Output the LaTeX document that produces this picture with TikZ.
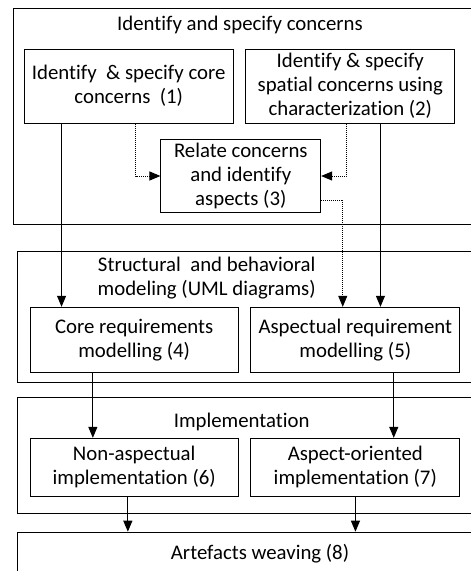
\documentclass[tikz,border=0pt]{standalone}
\usepackage{fontspec}
\setmainfont{Carlito}[Ligatures=NoCommon]
\usepackage{tikz}
\usetikzlibrary{arrows.meta}

\begin{document}
\begin{tikzpicture}[x=1pt, y=-1pt]
			\tikzstyle{every node}=[font=\fontsize{20.8}{24}\selectfont];
			\tikzstyle{proc}=[draw, line width=1pt, align=center, inner sep=0pt];
			\tikzstyle{grp}=[draw, line width=1pt, anchor=north west, inner sep=0pt, minimum width=480pt];
			\tikzstyle{arr}=[line width=1pt, -{Triangle[length=11pt, width=9pt]}];
			\tikzstyle{dotarr}=[arr, densely dotted];
			
			%Frame
			\useasboundingbox (0,0) rectangle (471,571);
			\clip (0,0) rectangle (471,571);
			
			%Groups
			\node[grp, minimum height=215.7pt] (g1) at (12.7,8.3) {};
			\node[grp, minimum height=131.6pt] (g2) at (17.3,250.7) {};
			\node[grp, minimum height=116pt] (g3) at (17.3,396.7) {};
			\node[grp, minimum height=80pt] (g4) at (17.3,531.7) {};
			\node (t1) at (240,25) {Identify and specify concerns};
			\node[align=center] (t2) at (206.7,278) {Structural\ \ and behavioral\\modeling (UML diagrams)};
			\node (t3) at (241.7,421.7) {Implementation};
			\node (t4) at (260,553.3) {Artefacts weaving (8)};
			
			%Steps
			\node[proc, minimum width=208.7pt, minimum height=74pt] (b1) at (128.7,86) {Identify\ \ \& specify core\\concerns\ \ (1)};
			\node[proc, minimum width=209.3pt, minimum height=74pt] (b2) at (350.3,86) {Identify \& specify\\spatial concerns using\\characterization (2)};
			\node[proc, minimum width=159.7pt, minimum height=73.7pt] (b3) at (240.8,176) {Relate concerns\\and identify\\aspects (3)};
			\node[proc, minimum width=208.3pt, minimum height=65pt] (b4) at (134.2,339.8) {Core requirements\\modelling (4)};
			\node[proc, minimum width=209.3pt, minimum height=65pt] (b5) at (355.3,339.8) {Aspectual requirement\\modelling (5)};
			\node[proc, minimum width=208.3pt, minimum height=57.7pt] (b6) at (134.2,467.2) {Non-aspectual\\implementation (6)};
			\node[proc, minimum width=209.3pt, minimum height=57.7pt] (b7) at (355.3,467.2) {Aspect-oriented\\implementation (7)};
			
			%Flows
			\draw[arr] ([xshift=37.7pt]b1.south west) -- ([xshift=37.7pt]b1.south west |- b4.north);
			\draw[dotarr] ([xshift=111.7pt]b1.south west) |- (b3.west);
			\draw[dotarr] ([xshift=101pt]b2.south west) |- (b3.east);
			\draw[arr] ([xshift=135.3pt]b2.south west) -- ([xshift=135.3pt]b2.south west |- b5.north);
			\draw[dotarr] ([yshift=-24pt]b3.east) -| ([xshift=92.6pt]b5.north west);
			\draw[arr] ([xshift=63.3pt]b4.south west) -- ([xshift=63.3pt]b4.south west |- b6.north);
			\draw[arr] ([xshift=143.6pt]b5.south west) -- ([xshift=143.6pt]b5.south west |- b7.north);
			\draw[arr] ([xshift=98.3pt]b6.south west) -- ([xshift=98.3pt]b6.south west |- g4.north);
			\draw[arr] ([xshift=105.3pt]b7.south west) -- ([xshift=105.3pt]b7.south west |- g4.north);
\end{tikzpicture}
\end{document}
